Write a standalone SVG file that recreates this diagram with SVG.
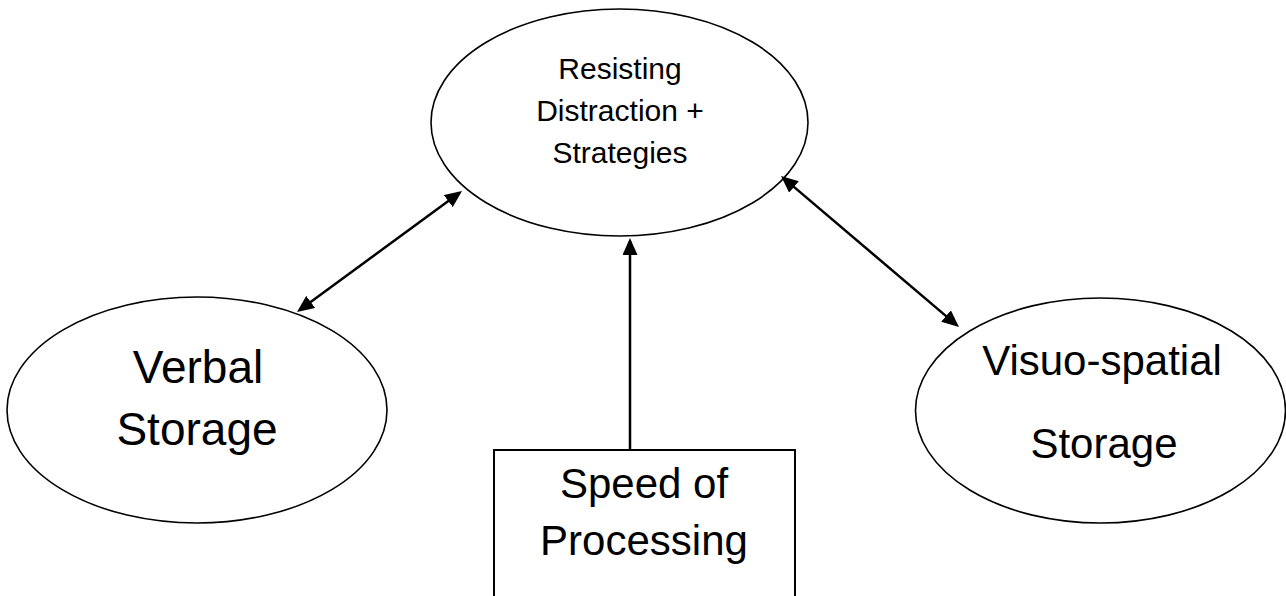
<svg xmlns="http://www.w3.org/2000/svg" width="1286" height="596" viewBox="0 0 1286 596">
  <style>
    .shape { fill: #ffffff; stroke: #000000; stroke-width: 1.6; }
    .box { fill: #ffffff; stroke: #000000; stroke-width: 2; }
    .link { stroke: #000000; stroke-width: 2.5; fill: none; }
    .label { font-family: "Liberation Sans", Arial, sans-serif; fill: #000000; text-anchor: middle; }
  </style>
  <defs>
    <marker id="arrow" viewBox="0 0 17 15" refX="14" refY="7.5" markerWidth="17" markerHeight="15" markerUnits="userSpaceOnUse" orient="auto-start-reverse">
      <path d="M0,0 L17,7.5 L0,15 z" fill="#000000"/>
    </marker>
  </defs>
  <rect width="1286" height="596" fill="#ffffff"/>

  <!-- central executive -->
  <g id="node-resisting">
    <ellipse class="shape" cx="619.5" cy="122.5" rx="188.5" ry="113.5"/>
    <text class="label" font-size="30" x="620" y="79">Resisting</text>
    <text class="label" font-size="30" x="620" y="121">Distraction +</text>
    <text class="label" font-size="30" x="620" y="163">Strategies</text>
  </g>

  <g id="node-verbal">
    <ellipse class="shape" cx="197" cy="410" rx="190" ry="113"/>
    <text class="label" font-size="46" x="198" y="383">Verbal</text>
    <text class="label" font-size="46" x="197" y="445">Storage</text>
  </g>

  <g id="node-visuospatial">
    <ellipse class="shape" cx="1100.5" cy="410.5" rx="185" ry="112.5"/>
    <text class="label" font-size="42" x="1102" y="375">Visuo-spatial</text>
    <text class="label" font-size="42" x="1104" y="458">Storage</text>
  </g>

  <g id="node-speed">
    <rect class="box" x="494" y="450" width="301" height="160"/>
    <text class="label" font-size="42" x="644" y="498">Speed of</text>
    <text class="label" font-size="42" x="644" y="555">Processing</text>
  </g>

  <g id="connectors">
    <line class="link" x1="299.4" y1="310.2" x2="459.6" y2="192.8" marker-start="url(#arrow)" marker-end="url(#arrow)"/>
    <line class="link" x1="783.3" y1="177.9" x2="956.7" y2="325.1" marker-start="url(#arrow)" marker-end="url(#arrow)"/>
    <line class="link" x1="630" y1="450" x2="630" y2="241" marker-end="url(#arrow)"/>
  </g>
</svg>
